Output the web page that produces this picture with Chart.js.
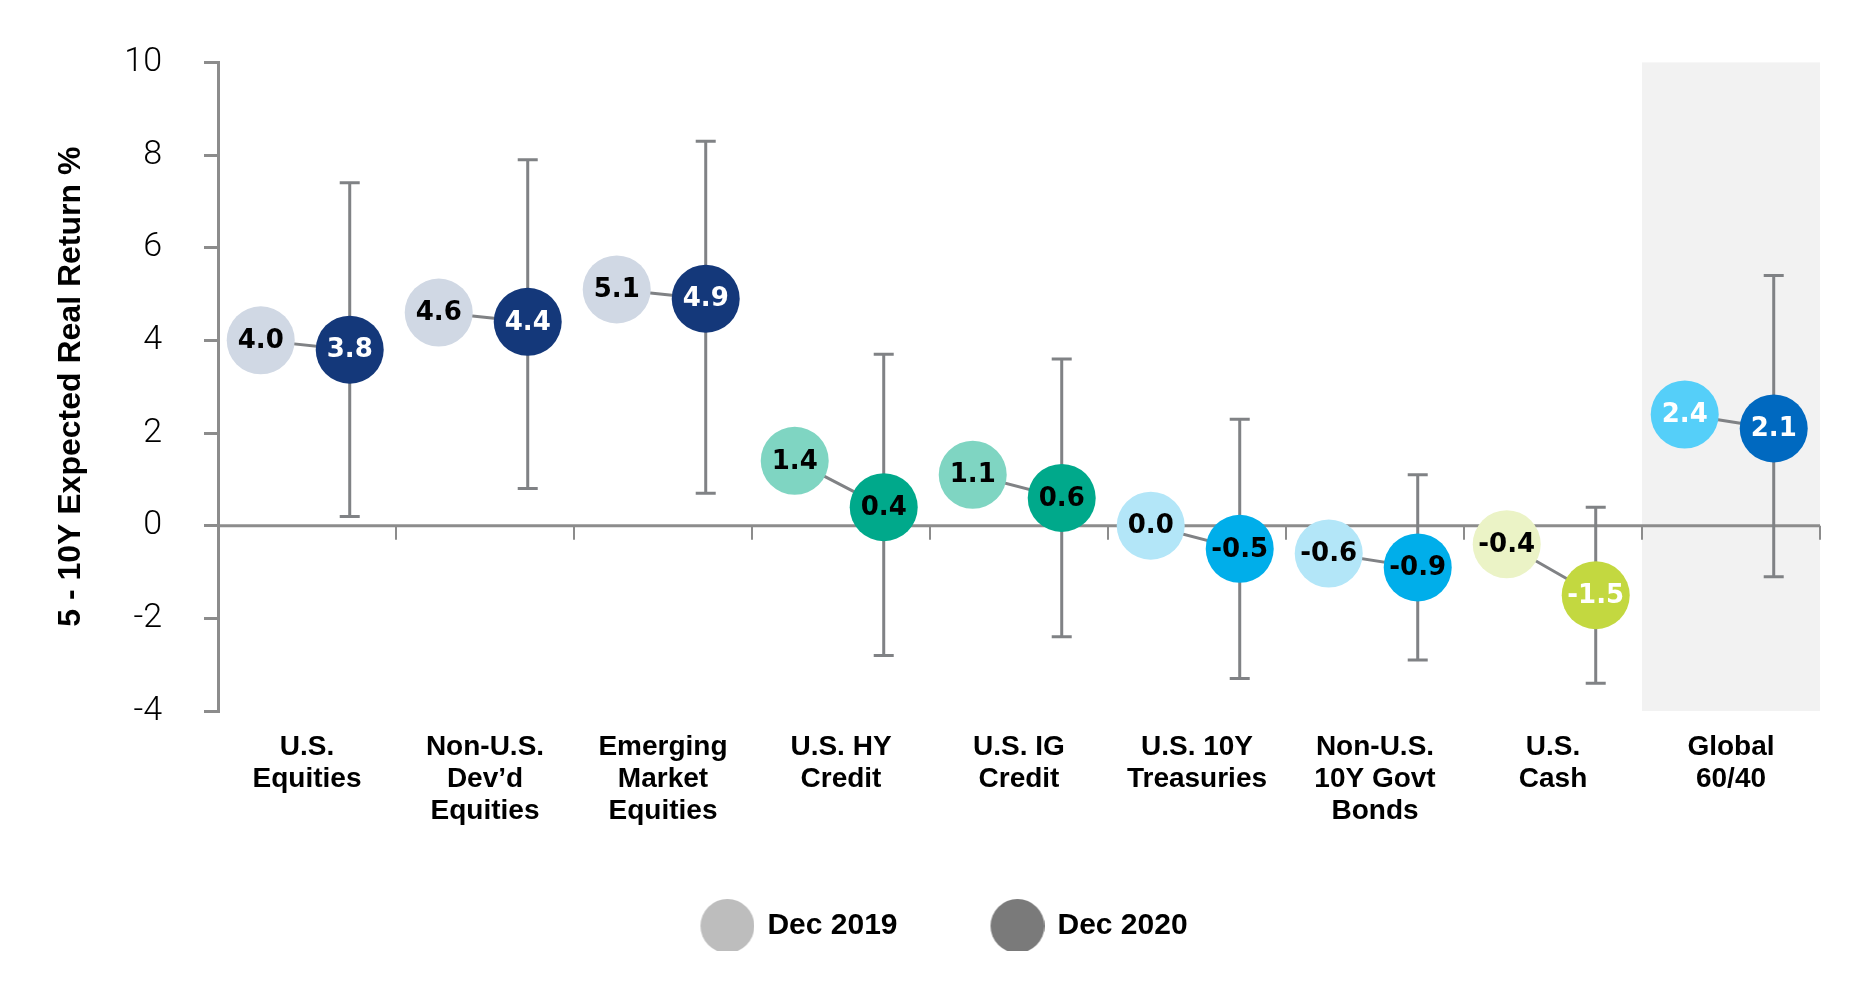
<!DOCTYPE html>
<html>
<head>
<meta charset="utf-8">
<script src="https://cdn.jsdelivr.net/npm/chart.js@4.4.1/dist/chart.umd.min.js"></script>
<style>
  html, body { margin: 0; padding: 0; background: #fff; }
  #wrap { width: 1854px; height: 988px; }
</style>
</head>
<body>
<div id="wrap"><canvas id="myChart" width="1854" height="988"></canvas></div>
<script>
// categories along the x axis
const categories = [
    ["U.S.", "Equities"],
    ["Non-U.S.", "Dev\u2019d", "Equities"],
    ["Emerging", "Market", "Equities"],
    ["U.S. HY", "Credit"],
    ["U.S. IG", "Credit"],
    ["U.S. 10Y", "Treasuries"],
    ["Non-U.S.", "10Y Govt", "Bonds"],
    ["U.S.", "Cash"],
    ["Global", "60/40"]
];

// expected returns, %
const dec2019 = [4.0, 4.6, 5.1, 1.4, 1.1, 0.0, -0.6, -0.4, 2.4];
const dec2020 = [3.8, 4.4, 4.9, 0.4, 0.6, -0.5, -0.9, -1.5, 2.1];

// range of the error bars (Dec 2020)
const rangeHigh = [7.4, 7.9, 8.3, 3.7, 3.6, 2.3, 1.1, 0.4, 5.4];
const rangeLow = [0.2, 0.8, 0.7, -2.8, -2.4, -3.3, -2.9, -3.4, -1.1];

const yTicks = [10, 8, 6, 4, 2, 0, -2, -4];

// colours per category
const colors2019 = ["#d0d8e4", "#d0d8e4", "#d0d8e4", "#7fd5c2", "#7fd5c2", "#b3e6f8", "#b3e6f8", "#ebf3c6", "#55cff9"];
const colors2020 = ["#14387a", "#14387a", "#14387a", "#00a98b", "#00a98b", "#00aeea", "#00aeea", "#c3d840", "#0069c0"];
const text2019 = ["#000", "#000", "#000", "#000", "#000", "#000", "#000", "#000", "#fff"];
const text2020 = ["#fff", "#fff", "#fff", "#000", "#000", "#000", "#000", "#fff", "#fff"];

// where the two dots sit inside a category slot
const OFF19 = 0.24;
const OFF20 = 0.74;
const GREY = "#808285";

const points2019 = dec2019.map((v, i) => ({ x: i + OFF19, y: v }));
const points2020 = dec2020.map((v, i) => ({ x: i + OFF20, y: v }));

// connector line between both dots, broken between categories
const connectorData = [];
dec2019.forEach((v, i) => {
    connectorData.push({ x: i + OFF19, y: v });
    connectorData.push({ x: i + OFF20, y: dec2020[i] });
    connectorData.push({ x: i + 0.99, y: null });
});

// legend marker: circle sitting at the right end of a wider image
function legendMarker(color) {
    const r = 27;
    const c = document.createElement("canvas");
    c.width = 71;
    c.height = r * 2;
    const cx = c.getContext("2d");
    cx.fillStyle = color;
    cx.beginPath();
    cx.arc(c.width - r, r, r, 0, Math.PI * 2);
    cx.fill();
    return c;
}

const backgroundPlugin = {
    id: "backgroundPlugin",
    beforeDatasetsDraw(chart) {
        const { ctx, chartArea, scales: { x, y } } = chart;
        ctx.save();
        // shaded Global 60/40 slot
        ctx.fillStyle = "#f2f2f2";
        const x0 = x.getPixelForValue(categories.length - 1);
        const x1 = x.getPixelForValue(categories.length);
        ctx.fillRect(x0, chartArea.top, x1 - x0, chartArea.bottom - chartArea.top);

        // zero line + its tick marks
        const zy = y.getPixelForValue(0);
        ctx.strokeStyle = "#8c8c8c";
        ctx.lineWidth = 3;
        ctx.beginPath();
        ctx.moveTo(chartArea.left, zy);
        ctx.lineTo(chartArea.right, zy);
        ctx.stroke();
        ctx.lineWidth = 2;
        for (let i = 1; i <= categories.length; i++) {
            const tx = x.getPixelForValue(i);
            ctx.beginPath();
            ctx.moveTo(tx, zy);
            ctx.lineTo(tx, zy + 14);
            ctx.stroke();
        }

        // error bars
        ctx.strokeStyle = GREY;
        ctx.lineWidth = 3;
        rangeHigh.forEach((hi, i) => {
            const px = x.getPixelForValue(i + OFF20);
            const top = y.getPixelForValue(hi);
            const bot = y.getPixelForValue(rangeLow[i]);
            ctx.beginPath();
            ctx.moveTo(px, top);
            ctx.lineTo(px, bot);
            ctx.moveTo(px - 10, top);
            ctx.lineTo(px + 10, top);
            ctx.moveTo(px - 10, bot);
            ctx.lineTo(px + 10, bot);
            ctx.stroke();
        });
        ctx.restore();
    }
};

const labelPlugin = {
    id: "labelPlugin",
    afterDatasetsDraw(chart) {
        const ctx = chart.ctx;
        ctx.save();
        ctx.font = "bold 26px 'DejaVu Sans'";
        ctx.textAlign = "center";
        ctx.textBaseline = "middle";
        [[0, dec2019, text2019], [1, dec2020, text2020]].forEach(([idx, values, cols]) => {
            chart.getDatasetMeta(idx).data.forEach((pt, i) => {
                ctx.fillStyle = cols[i];
                ctx.fillText(values[i].toFixed(1), pt.x, pt.y + 1);
            });
        });
        ctx.restore();
    }
};

const ctx = document.getElementById("myChart");

const myChart = new Chart(ctx, {
    type: "scatter",
    data: {
        datasets: [
            {
                label: "Dec 2019",
                data: points2019,
                backgroundColor: colors2019,
                borderWidth: 0,
                pointRadius: 34,
                pointHoverRadius: 34,
                order: 1
            },
            {
                label: "Dec 2020",
                data: points2020,
                backgroundColor: colors2020,
                borderWidth: 0,
                pointRadius: 34,
                pointHoverRadius: 34,
                order: 0
            },
            {
                type: "line",
                label: "connector",
                data: connectorData,
                borderColor: GREY,
                borderWidth: 3,
                pointRadius: 0,
                spanGaps: false,
                order: 5
            }
        ]
    },
    options: {
        responsive: false,
        devicePixelRatio: 1,
        animation: false,
        events: [],
        layout: {
            padding: { left: 50, right: 31, top: 53, bottom: 37 }
        },
        plugins: {
            tooltip: { enabled: false },
            legend: {
                position: "bottom",
                labels: {
                    usePointStyle: true,
                    pointStyleWidth: 67,
                    padding: 78,
                    color: "#000",
                    font: { family: "'Liberation Sans', Arial, sans-serif", size: 30, weight: "bold" },
                    generateLabels: () => [
                        { text: "Dec 2019", pointStyle: legendMarker("#bdbdbd"), fillStyle: "#bdbdbd", lineWidth: 0, datasetIndex: 0 },
                        { text: "Dec 2020", pointStyle: legendMarker("#7a7a7a"), fillStyle: "#7a7a7a", lineWidth: 0, datasetIndex: 1 }
                    ]
                }
            }
        },
        scales: {
            x: {
                type: "linear",
                min: 0,
                max: categories.length,
                grid: { display: false, drawTicks: false },
                border: { display: false },
                afterBuildTicks: scale => {
                    scale.ticks = categories.map((c, i) => ({ value: i + 0.5 }));
                },
                afterFit: scale => {
                    scale.height = 122;
                },
                ticks: {
                    padding: 20,
                    maxRotation: 0,
                    autoSkip: false,
                    color: "#000",
                    font: { family: "'Liberation Sans', Arial, sans-serif", size: 28, weight: "bold", lineHeight: 1.15 },
                    callback: value => categories[Math.round(value - 0.5)]
                }
            },
            y: {
                min: -4,
                max: 10,
                afterBuildTicks: scale => {
                    scale.ticks = yTicks.map(v => ({ value: v }));
                },
                afterFit: scale => {
                    scale.width = 168;
                },
                grid: {
                    drawOnChartArea: false,
                    tickLength: 14,
                    color: "#8c8c8c",
                    lineWidth: 3
                },
                border: { color: "#8c8c8c", width: 3 },
                ticks: {
                    padding: 42,
                    color: "#000",
                    font: { family: "Roboto, sans-serif", size: 34, weight: 300 }
                },
                title: {
                    display: true,
                    text: "5 - 10Y Expected Real Return %",
                    color: "#000",
                    padding: { top: 2, bottom: 0 },
                    font: { family: "'Liberation Sans', Arial, sans-serif", size: 32, weight: "bold" }
                }
            }
        }
    },
    plugins: [backgroundPlugin, labelPlugin]
});
</script>
</body>
</html>
